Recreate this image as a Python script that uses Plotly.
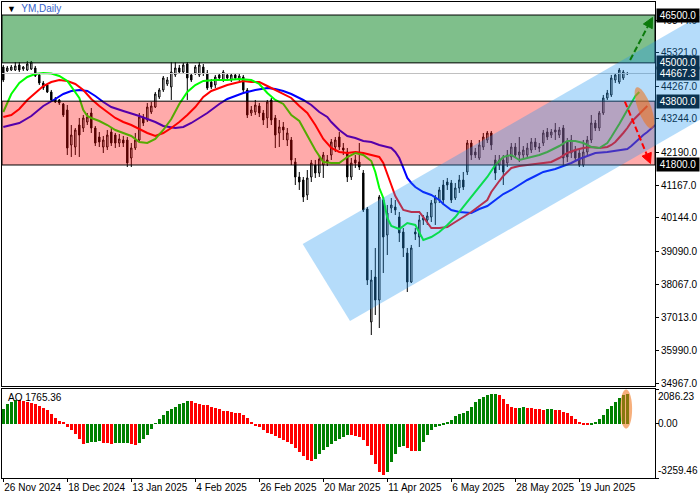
import numpy as np
import plotly.graph_objects as go

# ---------------- data ----------------
tick_idx = [0, 16, 32, 48, 64, 80, 96, 112, 128, 144]
tick_dates = ["26 Nov 2024", "18 Dec 2024", "13 Jan 2025", "4 Feb 2025", "26 Feb 2025",
              "20 Mar 2025", "11 Apr 2025", "6 May 2025", "28 May 2025", "19 Jun 2025"]

opens = [44871, 44746, 44777, 44777, 44934, 44809, 44777, 44809, 44840, 44621,
         44370, 44307, 44088, 43868, 43837, 43712, 43523, 42427, 42364, 43053,
         42959, 43147, 43429, 42959, 42677, 42364, 42364, 42834, 42740, 42489,
         42583, 42583, 42019, 42333, 42583, 43273, 43210, 43461, 43617, 43931,
         44151, 44339, 44245, 44621, 44840, 44715, 44965, 44621, 44683, 44621,
         44871, 44683, 44401, 44307, 44621, 44464, 44621, 44464, 44621, 44495,
         44558, 44151, 43429, 43461, 43649, 43429, 43273, 43837, 43273, 42803,
         42991, 42583, 42583, 41894, 41424, 41330, 40860, 41424, 41800, 41549,
         41800, 41957, 42113, 42364, 42677, 42333, 42207, 41424, 41957, 41894,
         41549, 40421, 36882, 38290, 37569, 40703, 39606, 40452, 40484, 40170,
         39700, 39042, 38133, 39700, 39543, 40076, 40076, 40170, 40609, 40703,
         41173, 41267, 41236, 40766, 41079, 41330, 41581, 42489, 42207, 42019,
         42364, 42583, 42803, 41957, 41800, 41957, 41863, 42051, 42364, 42113,
         42113, 42113, 42270, 42521, 42364, 42489, 42834, 42740, 42897, 42740,
         42959, 42521, 42176, 42270, 42176, 41800, 42207, 42583, 43116, 42959,
         43429, 43900, 43994, 44464, 44401, 44527, 44652]
highs = [44934, 44903, 44934, 45028, 45028, 44903, 45059, 45059, 44903, 44652,
         44433, 44339, 44151, 43931, 43868, 43743, 43680, 43053, 42959, 43273,
         43367, 43429, 43586, 43022, 42834, 42709, 42897, 42959, 42803, 42771,
         42709, 42677, 42489, 42803, 43429, 43398, 43743, 43774, 44088, 44213,
         44589, 44558, 45028, 45028, 44934, 44997, 45028, 44683, 44934, 45028,
         44965, 44777, 44495, 44621, 44683, 44777, 44683, 44683, 44683, 44652,
         44621, 44213, 43649, 43837, 43743, 43523, 43837, 43900, 43367, 43210,
         43147, 42959, 42677, 42019, 41581, 41424, 41643, 41957, 41957, 42113,
         42207, 42113, 42615, 42677, 42834, 42489, 42333, 42019, 42113, 42489,
         41643, 40484, 38509, 39199, 40860, 40797, 40546, 40766, 40703, 40327,
         39825, 39199, 39293, 39825, 40233, 40233, 40327, 40703, 40860, 41111,
         41330, 41393, 41330, 41236, 41487, 41581, 42583, 42583, 42333, 42583,
         42803, 42865, 42865, 42113, 42113, 42113, 42270, 42489, 42489, 42677,
         42395, 42489, 42646, 42646, 42489, 42897, 42959, 42928, 43116, 42991,
         43053, 42646, 42740, 42395, 42270, 42583, 42709, 43367, 43210, 43492,
         43994, 44151, 44621, 44683, 44840, 44777, 44715]
lows = [44401, 44715, 44746, 44746, 44715, 44746, 44746, 44777, 44558, 44307,
        44151, 44056, 43806, 43743, 43680, 43304, 42113, 42051, 42113, 42051,
        42834, 43053, 42803, 42395, 42364, 42176, 42270, 42395, 42333, 42364,
        42364, 41737, 41737, 42270, 42521, 43022, 43147, 43398, 43586, 43868,
        44088, 44276, 43837, 44558, 44652, 44683, 43837, 44401, 44621, 44558,
        44589, 44151, 44182, 44213, 44464, 44401, 44464, 44401, 44464, 44433,
        44056, 43273, 43335, 43367, 43304, 43053, 42959, 43053, 42333, 42364,
        42583, 42395, 41800, 41173, 41017, 40640, 40703, 41267, 41393, 41424,
        41393, 41769, 41957, 42207, 42270, 42113, 41267, 41330, 41706, 41643,
        40327, 38039, 36472, 37099, 36691, 38415, 38979, 40296, 40233, 39387,
        38916, 37820, 38102, 39449, 39230, 39920, 39920, 40013, 39920, 40609,
        40546, 41017, 40609, 40703, 40923, 41017, 41487, 41957, 42019, 41957,
        42270, 42489, 42270, 41330, 41643, 41173, 41737, 41957, 42019, 41894,
        42019, 42019, 42176, 42270, 42207, 42395, 42583, 42646, 42583, 42646,
        41800, 41894, 42019, 41894, 41737, 41737, 42113, 42489, 42865, 42865,
        43367, 43837, 43931, 44370, 44339, 44464, 44621]
closes = [44464, 44840, 44871, 44903, 44777, 44871, 44965, 45028, 44589, 44370,
          44213, 44088, 43837, 43774, 43743, 43367, 42333, 42740, 42897, 42740,
          43273, 43304, 42959, 42489, 42521, 42583, 42740, 42489, 42489, 42615,
          42489, 41863, 42333, 42583, 43304, 43116, 43617, 43649, 44025, 44151,
          44527, 44464, 44715, 44840, 44715, 44934, 44527, 44464, 44871, 44934,
          44683, 44213, 44245, 44558, 44527, 44715, 44527, 44621, 44527, 44589,
          44151, 43367, 43523, 43680, 43429, 43210, 43774, 43210, 42740, 42991,
          42897, 42803, 41957, 41424, 41267, 40797, 41393, 41863, 41549, 41988,
          42113, 41863, 42521, 42583, 42364, 42270, 41424, 41863, 41863, 41737,
          40390, 38196, 38196, 37569, 40797, 39543, 40296, 40546, 40390, 39669,
          39199, 38133, 39199, 39637, 40076, 40139, 40202, 40609, 40766, 41017,
          40703, 41173, 40703, 41079, 41330, 41111, 42489, 42113, 42113, 42427,
          42677, 42803, 42427, 41549, 41957, 41581, 42113, 42364, 42113, 42207,
          42270, 42333, 42521, 42364, 42333, 42803, 42677, 42834, 42834, 42897,
          42019, 42051, 42583, 42019, 41800, 42207, 42583, 43116, 42959, 43429,
          43900, 44056, 44527, 44621, 44777, 44715, 44667.3]

# Alligator lines (already shifted forward: lips 3, teeth 5, jaw 8 bars)
lips_idx = [0, 2, 4, 6, 8, 10, 12, 14, 16, 18, 19, 20, 21, 22, 24, 26, 28, 30, 32, 34,
            36, 38, 40, 42, 44, 46, 48, 50, 53, 56, 59, 62, 64, 66, 68, 70, 72, 74, 76, 78,
            80, 82, 84, 86, 88, 90, 92, 93, 94, 95, 96, 97, 99, 101, 103, 105, 107, 109, 111, 113,
            115, 117, 119, 121, 123, 125, 127, 129, 131, 134, 136, 139, 141, 143, 145, 147, 149, 151, 152, 153,
            154, 155, 156, 157, 158, 159]
lips_val = [43461, 44025, 44370, 44558, 44652, 44683, 44668, 44589, 44433, 44088, 43900, 43523, 43335, 43273, 43179, 43053, 42897, 42803, 42709, 42521,
            42489, 42615, 42897, 43241, 43712, 44088, 44307, 44433, 44464, 44464, 44495, 44464, 44339, 44056, 43837, 43712, 43367, 43179, 42709, 42270,
            41894, 41863, 41863, 42051, 42176, 42113, 41925, 41581, 41079, 40766, 40139, 39888, 39794, 39982, 39920, 39449, 39543, 39700, 39920, 40170,
            40484, 40797, 41111, 41424, 41800, 42051, 42113, 41957, 42019, 42113, 42207, 42395, 42552, 42552, 42489, 42364, 42333, 42489, 42677, 42865,
            43085, 43304, 43523, 43774, 43962, 44088]
teeth_idx = [0, 2, 4, 6, 8, 10, 12, 14, 16, 18, 20, 22, 24, 26, 28, 30, 32, 34, 36, 38,
             40, 42, 44, 46, 48, 50, 52, 54, 56, 58, 60, 62, 64, 66, 68, 70, 72, 74, 76, 78,
             80, 82, 84, 86, 88, 90, 92, 94, 95, 96, 97, 98, 99, 100, 102, 104, 105, 106, 107, 109,
             111, 113, 115, 117, 119, 121, 122, 123, 124, 125, 126, 127, 129, 131, 134, 137, 139, 141, 143, 145,
             147, 149, 151, 152, 153, 154, 155, 156, 157, 158, 159, 160, 161]
teeth_val = [43304, 43367, 43555, 43837, 44056, 44276, 44401, 44464, 44433, 44339, 44151, 43868, 43649, 43461, 43273, 43147, 43053, 42928, 42803, 42709,
             42803, 42959, 43147, 43367, 43617, 43931, 44119, 44213, 44307, 44370, 44433, 44401, 44401, 44276, 44151, 44025, 43900, 43649, 43429, 43053,
             42615, 42333, 42207, 42176, 42207, 42176, 42113, 42051, 41863, 41549, 41173, 40828, 40609, 40390, 40327, 40327, 40170, 40013, 39825, 39825,
             39857, 40013, 40170, 40327, 40515, 40703, 40954, 41142, 41298, 41455, 41581, 41706, 41769, 41800, 41831, 41894, 42019, 42176, 42270, 42333,
             42364, 42333, 42364, 42427, 42521, 42646, 42803, 42959, 43147, 43273, 43398, 43523, 43649]
jaw_idx = [0, 4, 7, 10, 13, 15, 17, 19, 21, 23, 25, 27, 30, 34, 38, 40, 43, 45, 47, 49,
           51, 54, 56, 58, 60, 63, 66, 68, 70, 72, 75, 77, 79, 81, 82, 84, 86, 88, 90, 92,
           94, 96, 97, 98, 99, 100, 101, 102, 103, 105, 107, 109, 110, 112, 114, 117, 119, 121, 123, 125,
           127, 129, 131, 133, 135, 138, 140, 142, 144, 146, 148, 151, 154, 156, 157, 158, 159, 160, 161, 162,
           163]
jaw_val = [42991, 43116, 43335, 43649, 43868, 44025, 44119, 44151, 44119, 43962, 43774, 43617, 43492, 43335, 43147, 43022, 42959, 42991, 43116, 43273,
           43429, 43712, 43868, 43962, 44056, 44151, 44213, 44182, 44119, 44025, 43837, 43680, 43461, 43304, 43147, 42897, 42709, 42646, 42552, 42521,
           42427, 42364, 42333, 42207, 42019, 41706, 41393, 41236, 41111, 40954, 40860, 40703, 40577, 40390, 40327, 40296, 40421, 40515, 40703, 40891,
           41017, 41173, 41330, 41455, 41581, 41675, 41769, 41863, 41988, 42082, 42176, 42207, 42270, 42301, 42395, 42521, 42646, 42740, 42834, 42959,
           43053]

ao_vals = [860, 1180, 1300, 1420, 1400, 1340, 1300, 1260, 1180, 1060,
           940, 820, 580, 360, 180, 60, -180, -380, -640, -940,
           -1220, -1180, -1100, -1080, -1060, -1140, -1180, -1190, -1160, -1140,
           -1135, -1130, -1240, -1260, -1140, -940, -680, -340, 40, 260,
           520, 780, 860, 1020, 1180, 1260, 1360, 1340, 1220, 1180,
           1140, 1100, 1020, 940, 860, 780, 740, 700, 670, 630,
           540, 340, 100, -120, -220, -380, -540, -620, -740, -840,
           -980, -1100, -1240, -1480, -1700, -1940, -2180, -2260, -2100, -1820,
           -1580, -1380, -1220, -1040, -900, -820, -660, -680, -740, -820,
           -980, -1340, -1880, -2420, -2900, -3060, -2880, -2280, -1820, -1380,
           -1320, -1480, -1620, -1660, -1620, -1080, -680, -380, -220, -120,
           -40, 100, 220, 460, 560, 620, 780, 1020, 1300, 1500,
           1620, 1720, 1760, 1780, 1700, 1460, 1180, 1020, 960, 965,
           980, 940, 930, 900, 860, 840, 860, 880, 820, 800,
           720, 620, 460, 260, 120, -60, -100, -40, 120, 260,
           520, 860, 1060, 1320, 1560, 1700, 1765.36]

price_ticks = [46344, 45321, 44267, 43244, 42190, 41167, 40144, 39090, 38067, 37013, 35990, 34967]
buy_zone = (45000, 46500)
sell_zone = (41800, 43800)
last_price = 44667.3
level_labels = [46500, 45000, 44667.3, 43800, 41800]
ao_labels = [2086.23, 0.0, -3259.46]

# -------------- geometry helpers --------------
X0, X1 = -0.325, 162.925
P0, P1 = 34874, 46908
A0, A1 = -3259.46, 2086.23
W, H = 700, 500
ML, MR, MT, MB = 2, 45, 2, 22
PW = W - ML - MR
PH = H - MT - MB
main_dom = [(478 - 386) / PH, 1.0]
ao_dom = [0.0, 89 / PH]
ppb = PW / (X1 - X0)                               # px per bar
ppp = (main_dom[1] - main_dom[0]) * PH / (P1 - P0)  # px per price unit
ppa = (ao_dom[1] - ao_dom[0]) * PH / (A1 - A0)      # px per AO unit


def to_paper_x(i):
    return (i - X0) / (X1 - X0)


def ellipse_path(ci, cv, a_px, b_px, theta_deg, vscale):
    t = np.linspace(0, 2 * np.pi, 60)
    th = np.radians(theta_deg)
    dx = a_px * np.cos(t) * np.cos(th) - b_px * np.sin(t) * np.sin(th)
    dy = a_px * np.cos(t) * np.sin(th) + b_px * np.sin(t) * np.cos(th)
    xs = ci + dx / ppb
    ys = cv - dy / vscale
    return "M " + " L ".join(f"{x:.4f},{y:.3f}" for x, y in zip(xs, ys)) + " Z"


def arrow(si, sp, ti, tp, color, head_len=10, head_w=5):
    dxp = (ti - si) * ppb
    dyp = -(tp - sp) * ppp
    L = np.hypot(dxp, dyp)
    ux, uy = dxp / L, dyp / L
    bx, by = -ux * head_len, -uy * head_len
    bi, bp = ti + bx / ppb, tp - by / ppp
    nx, ny = -uy * head_w, ux * head_w
    p1 = (bi + nx / ppb, bp - ny / ppp)
    p2 = (bi - nx / ppb, bp + ny / ppp)
    line = dict(type="line", xref="x", yref="y", x0=si, y0=sp, x1=bi, y1=bp,
                line=dict(color=color, width=2, dash="6px,3px"), layer="above")
    head = dict(type="path", xref="x", yref="y", layer="above",
                path=f"M {ti},{tp} L {p1[0]},{p1[1]} L {p2[0]},{p2[1]} Z",
                fillcolor=color, line=dict(color=color, width=1))
    return [line, head]


FONT = "Liberation Sans, Arial, sans-serif"
idx = list(range(len(closes)))

fig = go.Figure()
fig.add_trace(go.Candlestick(
    x=idx, open=opens, high=highs, low=lows, close=closes,
    increasing=dict(line=dict(color="black", width=1), fillcolor="white"),
    decreasing=dict(line=dict(color="black", width=1), fillcolor="black"),
    whiskerwidth=0, hoverinfo="skip", showlegend=False, xaxis="x", yaxis="y"))
fig.add_trace(go.Scatter(x=jaw_idx, y=jaw_val, mode="lines", line=dict(color="#0000FF", width=2),
                         hoverinfo="skip", showlegend=False, xaxis="x", yaxis="y"))
fig.add_trace(go.Scatter(x=teeth_idx, y=teeth_val, mode="lines", line=dict(color="#FF0000", width=2),
                         hoverinfo="skip", showlegend=False, xaxis="x", yaxis="y"))
fig.add_trace(go.Scatter(x=lips_idx, y=lips_val, mode="lines", line=dict(color="#00FF00", width=2),
                         hoverinfo="skip", showlegend=False, xaxis="x", yaxis="y"))

ao_colors = ["#008000"] + ["#008000" if ao_vals[k] > ao_vals[k - 1] else "#FF0000"
                           for k in range(1, len(ao_vals))]
fig.add_trace(go.Bar(x=idx, y=ao_vals, marker=dict(color=ao_colors, line=dict(width=0)),
                     width=0.75, hoverinfo="skip", showlegend=False, xaxis="x2", yaxis="y2"))

shapes = []
shapes.append(dict(type="rect", xref="paper", yref="y", x0=0, x1=1, y0=sell_zone[0], y1=sell_zone[1],
                   fillcolor="rgba(255,0,0,0.333)", line=dict(color="black", width=1), layer="above"))
shapes.append(dict(type="rect", xref="paper", yref="y", x0=0, x1=1, y0=buy_zone[0], y1=buy_zone[1],
                   fillcolor="rgba(0,128,24,0.5)", line=dict(color="black", width=1), layer="above"))
shapes.append(dict(type="line", xref="paper", yref="y", x0=0, x1=1, y0=last_price, y1=last_price,
                   line=dict(color="#C0C0C0", width=1), layer="above"))
# trend channel (bar index, price) corners
chan = [(74.85, 39324), (86.68, 36911), (191.0, 44432), (179.2, 46846)]
chan_path = "M " + " L ".join(f"{to_paper_x(i):.5f},{p}" for i, p in chan) + " Z"
shapes.append(dict(type="path", xref="paper", yref="y", path=chan_path,
                   fillcolor="rgba(30,150,240,0.33)", line=dict(width=0), layer="above"))
shapes.append(dict(type="path", xref="x", yref="y", layer="above",
                   path=ellipse_path(160.3, 43586, 22, 6.5, 69.4, ppp),
                   fillcolor="rgba(240,115,25,0.57)", line=dict(width=0)))
shapes.append(dict(type="path", xref="x2", yref="y2", layer="above",
                   path=ellipse_path(155.7, 883, 19.5, 6, 90, ppa),
                   fillcolor="rgba(240,115,25,0.57)", line=dict(width=0)))
shapes += arrow(156.7, 45091, 162.3, 46423, "#0B7A0B")
shapes += arrow(155.4, 43784, 161.8, 41847, "#FF0000")

ann = []
for v in level_labels:
    under = 41800 < v < 46500
    ann.append(dict(xref="paper", yref="y", x=1, y=v, xanchor="left", yanchor="middle", xshift=1,
                    text=f"{v:.1f}", showarrow=False, width=40, borderpad=1,
                    bgcolor="#0A3250" if under else "black",
                    font=dict(family=FONT, size=10, color="white")))
for v, anc in zip(ao_labels, ["top", "middle", "bottom"]):
    ann.append(dict(xref="paper", yref="y2", x=1, y=v, xanchor="left", yanchor=anc, xshift=1,
                    text=f"{v:.2f}", showarrow=False,
                    font=dict(family=FONT, size=10, color="black")))
ann.append(dict(xref="paper", yref="paper", x=0, y=1, xanchor="left", yanchor="top", xshift=3, yshift=1,
                text="<span style='font-size:9px;color:black'>▼</span>&nbsp; YM,Daily", showarrow=False,
                font=dict(family=FONT, size=10, color="#3461C8")))
ann.append(dict(xref="paper", yref="y2", x=0, y=A1, xanchor="left", yanchor="top", xshift=4, yshift=-1,
                text=f"AO {ao_vals[-1]:.2f}", showarrow=False,
                font=dict(family=FONT, size=10, color="black")))

fig.update_layout(
    width=W, height=H, margin=dict(l=ML, r=MR, t=MT, b=MB, autoexpand=False),
    paper_bgcolor="white", plot_bgcolor="white", showlegend=False,
    font=dict(family=FONT, size=10, color="black"),
    boxgap=0.5, bargap=0,
    shapes=shapes, annotations=ann,
    xaxis=dict(domain=[0, 1], anchor="y", range=[X0, X1], showticklabels=False, ticks="",
               showline=True, mirror=True, linecolor="black", linewidth=1, showgrid=False,
               zeroline=False, rangeslider=dict(visible=False), fixedrange=True),
    yaxis=dict(domain=main_dom, anchor="x", range=[P0, P1], side="right",
               tickvals=price_ticks, ticktext=[f"{v:.1f}" for v in price_ticks],
               ticks="outside", ticklen=3, tickcolor="black",
               showline=True, mirror=True, linecolor="black", linewidth=1,
               showgrid=False, zeroline=False, fixedrange=True,
               tickfont=dict(family=FONT, size=10, color="black")),
    xaxis2=dict(domain=[0, 1], anchor="y2", matches="x", range=[X0, X1],
                tickvals=tick_idx, ticktext=tick_dates, ticks="outside", ticklen=3, tickcolor="black",
                ticklabelposition="outside right", tickangle=0,
                showline=True, mirror=True, linecolor="black", linewidth=1, showgrid=False,
                zeroline=False, fixedrange=True,
                tickfont=dict(family=FONT, size=10, color="black")),
    yaxis2=dict(domain=ao_dom, anchor="x2", range=[A0, A1], side="right",
                tickvals=ao_labels, showticklabels=False, ticks="outside", ticklen=3, tickcolor="black",
                showline=True, mirror=True, linecolor="black", linewidth=1,
                showgrid=False, zeroline=False, fixedrange=True),
)

fig.write_html("out.html", config={"displayModeBar": False, "responsive": False},
               post_script="document.body.style.margin='0px';document.body.style.padding='0px';")
